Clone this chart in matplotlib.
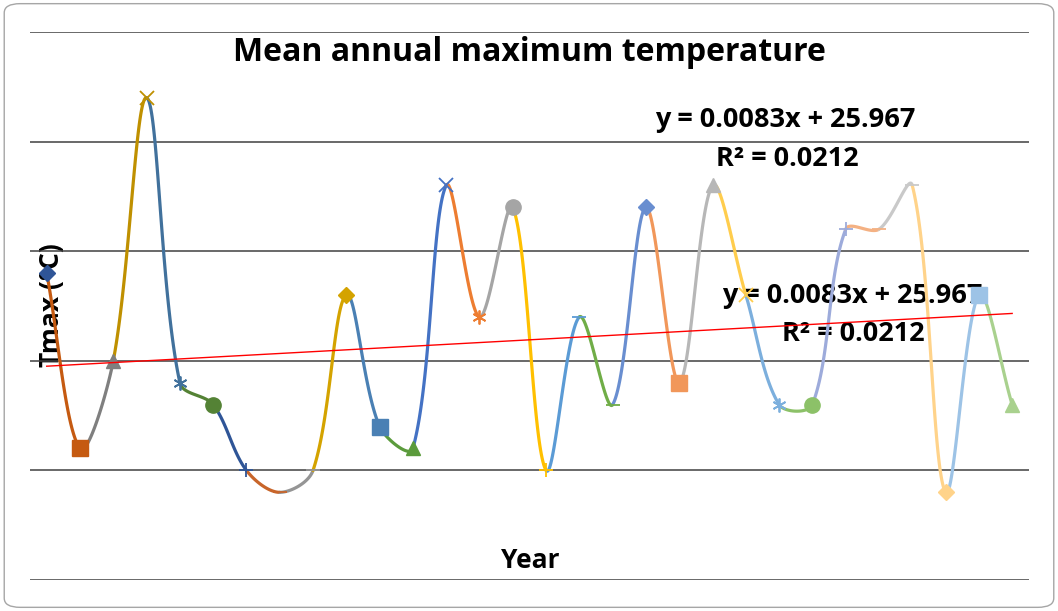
import numpy as np
import matplotlib
matplotlib.use('Agg')
import matplotlib.pyplot as plt
from matplotlib.patches import FancyBboxPatch

# data (one point per year, index 1..30)
years = np.arange(1, 31)
tmax = [26.4, 25.6, 26.0, 27.2, 25.9, 25.8, 25.5, 25.4, 25.5, 26.3,
        25.7, 25.6, 26.8, 26.2, 26.7, 25.5, 26.2, 25.8, 26.7, 25.9,
        26.8, 26.3, 25.8, 25.8, 26.6, 26.6, 26.8, 25.4, 26.3, 25.8]

# trendline as printed on the chart
slope = 0.0083
intercept = 25.967
r2 = 0.0212

point_colors = ['#2F5597', '#C55A11', '#7F7F7F', '#BF9000', '#41719C', '#548235',
                '#2F5597', '#C8652A', '#959595', '#D4A300', '#4A80B4', '#5B9B3C',
                '#4472C4', '#ED7D31', '#A5A5A5', '#FFC000', '#5B9BD5', '#70AD47',
                '#698ED0', '#F1975A', '#B7B7B7', '#FFCD4D', '#7CAFDD', '#8CC168',
                '#9DABDB', '#F4B183', '#C9C9C9', '#FFD38A', '#9DC3E6', '#A9D18E']
marker_cycle = ['D', 's', '^', 'x', (6, 2, 0), 'o', '+', '_', '_']

fig = plt.figure(figsize=(10.58, 6.11), dpi=100)
ax = fig.add_axes([0.0284, 0.0507, 0.944, 0.897])
ax.set_xlim(0.5, 30.5)
ax.set_ylim(25.0, 27.5)
ax.patch.set_visible(False)  # labels sit underneath the data, as in excel

pts = np.column_stack([years, tmax]).astype(float)
pix = ax.transData.transform(pts)
n = len(pts)


def dist(a, b):
    return np.hypot(*(pix[a] - pix[b]))


# excel-like smoothing: catmull-rom tangents weighted by on-screen chord length
for i in range(n - 1):
    i0, i3 = max(i - 1, 0), min(i + 2, n - 1)
    d01, d12, d23 = dist(i0, i), dist(i, i + 1), dist(i + 1, i3)
    w1 = d12 / (d01 + d12) / 3.0 if d01 + d12 > 0 else 0
    w2 = d12 / (d12 + d23) / 3.0 if d12 + d23 > 0 else 0
    p1, p2 = pts[i], pts[i + 1]
    c1 = p1 + (p2 - pts[i0]) * w1
    c2 = p2 - (pts[i3] - p1) * w2
    t = np.linspace(0, 1, 50)[:, None]
    seg = (1 - t) ** 3 * p1 + 3 * (1 - t) ** 2 * t * c1 + 3 * (1 - t) * t ** 2 * c2 + t ** 3 * p2
    ax.plot(seg[:, 0], seg[:, 1], color=point_colors[i + 1], lw=2.3,
            solid_capstyle='round', zorder=2)

sizes = {'D': 8, 's': 11, '^': 10, 'x': 10, 'o': 11, '+': 10, '_': 10}
for i in range(n):
    m = marker_cycle[i % len(marker_cycle)]
    ms = sizes.get(m, 10) if isinstance(m, str) else 10
    thin = (not isinstance(m, str)) or m in ('x', '+', '_')
    ax.plot(years[i], tmax[i], marker=m, color=point_colors[i], markersize=ms,
            markeredgewidth=1.3 if thin else 1, linestyle='none', zorder=3)

# linear trendline
xt = np.array([years[0], years[-1]])
ax.plot(xt, slope * xt + intercept, color='#FF0000', lw=1.0, zorder=4)

ax.set_yticks(np.arange(25.0, 27.51, 0.5))
ax.grid(axis='y', color='#404040', lw=1.1)
ax.set_axisbelow(True)
ax.tick_params(left=False, bottom=False, labelleft=False, labelbottom=False)
for s in ax.spines.values():
    s.set_visible(False)

txt = dict(family='Open Sans', fontweight='bold', color='black', zorder=-1)
eq1 = 'y = {}x + {}'.format(slope, intercept)
eq2 = 'R² = {}'.format(r2)


def fy(py):
    return 1 - py / 611


fig.text(0.5, fy(61), 'Mean annual maximum temperature', ha='center', va='baseline',
         fontsize=23, **txt)
fig.text(785 / 1058, fy(127), eq1, ha='center', va='baseline', fontsize=19.5, **txt)
fig.text(787 / 1058, fy(166), eq2, ha='center', va='baseline', fontsize=19.5, **txt)
fig.text(852 / 1058, fy(303), eq1, ha='center', va='baseline', fontsize=19.5, **txt)
fig.text(853 / 1058, fy(341), eq2, ha='center', va='baseline', fontsize=19.5, **txt)
fig.text(52 / 1058, fy(305), 'Tmax (°C)', ha='center', va='center', rotation=90,
         fontsize=19, **txt)
fig.text(530 / 1058, fy(568), 'Year', ha='center', va='baseline', fontsize=19, **txt)

# rounded chart border
fig.patches.append(FancyBboxPatch((0.004, 0.006), 0.992, 0.988,
                                  boxstyle='round,pad=0,rounding_size=0.015',
                                  transform=fig.transFigure, fill=False,
                                  edgecolor='#A6A6A6', lw=1.0))

fig.savefig('out.png', dpi=100)
